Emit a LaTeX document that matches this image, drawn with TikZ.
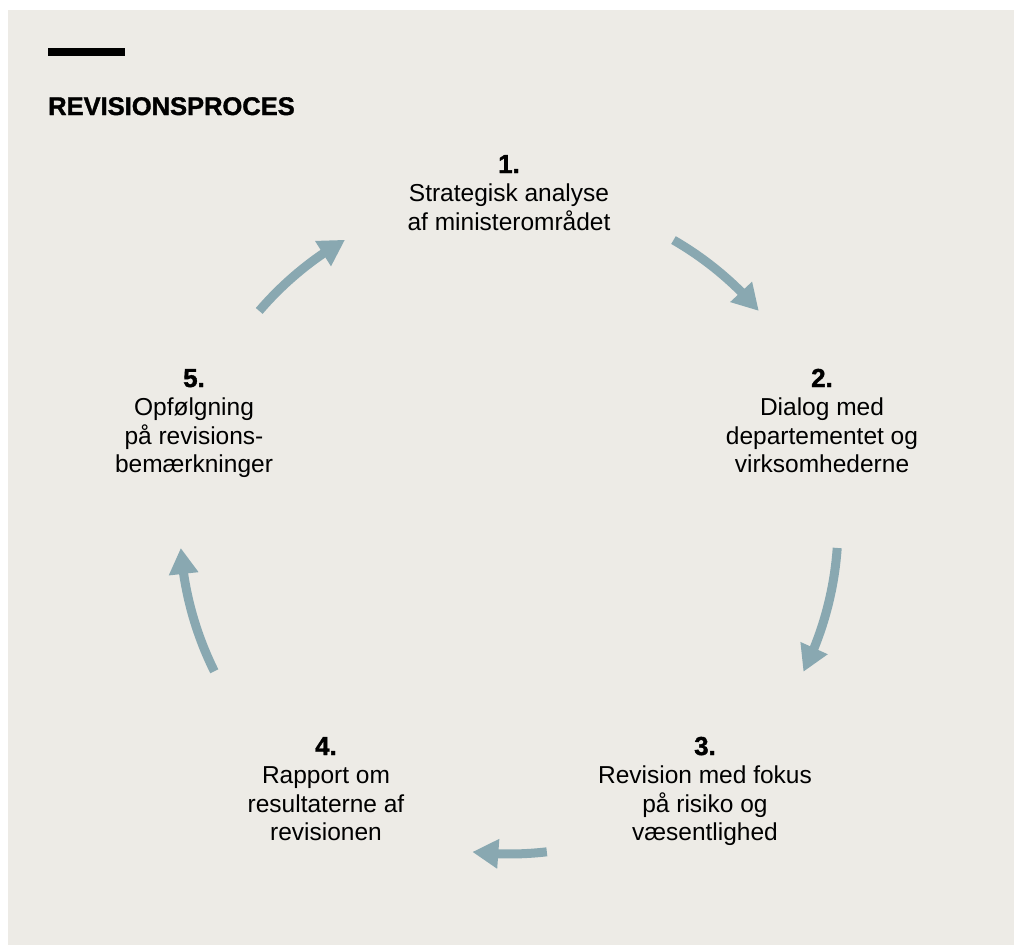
\documentclass[tikz,border=0pt]{standalone}
\usepackage{fontspec}
\setmainfont{Liberation Sans}
\newfontfamily\heavyfont{Liberation Sans Bold}[FakeBold=1.4]
\usetikzlibrary{arrows.meta,bending}
\definecolor{bg}{RGB}{237,235,230}
\definecolor{arrowc}{RGB}{137,168,177}
\newcommand{\stepnum}[1]{{\heavyfont\fontsize{26}{28.5}\selectfont #1}}
\begin{document}
\begin{tikzpicture}[x=1pt,y=1pt,
  steplabel/.style={inner sep=0pt, font=\fontsize{24.5}{28.5}\selectfont, anchor=base},
  cyc/.style={draw=arrowc, line width=9pt, -{Triangle[length=26pt,width=28pt]}}]
\useasboundingbox (0,0) rectangle (1014,-945);
\fill[white] (0,0) rectangle (1014,-945);
\fill[bg] (8,-10) rectangle (1014,-945);
\fill[black] (48,-48) rectangle (125,-56);
\node[anchor=base west, inner sep=0pt, font=\heavyfont\fontsize{25.5}{30}\selectfont] (title) at (48,-115) {REVISIONSPROCES};

\node[steplabel] (s1) at (509,-173) {\begin{tabular}[t]{@{}c@{}}\stepnum{1.}\\Strategisk analyse\\af ministerområdet\end{tabular}};
\node[steplabel] (s2) at (822,-387) {\begin{tabular}[t]{@{}c@{}}\stepnum{2.}\\Dialog med\\departementet og\\virksomhederne\end{tabular}};
\node[steplabel] (s3) at (705,-755) {\begin{tabular}[t]{@{}c@{}}\stepnum{3.}\\Revision med fokus\\på risiko og\\væsentlighed\end{tabular}};
\node[steplabel] (s4) at (326,-755) {\begin{tabular}[t]{@{}c@{}}\stepnum{4.}\\Rapport om\\resultaterne af\\revisionen\end{tabular}};
\node[steplabel] (s5) at (194,-387) {\begin{tabular}[t]{@{}c@{}}\stepnum{5.}\\Opfølgning\\på revisions-\\bemærkninger\end{tabular}};

\coordinate (c) at (509,-525);
\coordinate (a12) at ([shift={(60:329pt)}]c);
\coordinate (a23) at ([shift={(-4:329pt)}]c);
\coordinate (a34) at ([shift={(-83.4:329pt)}]c);
\coordinate (a45) at ([shift={(-153.6:329pt)}]c);
\coordinate (a51) at ([shift={(139.4:329pt)}]c);
\draw[cyc] (a12) arc[start angle=60,end angle=40.6,radius=329pt];
\draw[cyc] (a23) arc[start angle=-4,end angle=-26.5,radius=329pt];
\draw[cyc] (a34) arc[start angle=-83.4,end angle=-96.4,radius=329pt];
\draw[cyc] (a45) arc[start angle=-153.6,end angle=-176,radius=329pt];
\draw[cyc] (a51) arc[start angle=139.4,end angle=119.9,radius=329pt];
\end{tikzpicture}
\end{document}
